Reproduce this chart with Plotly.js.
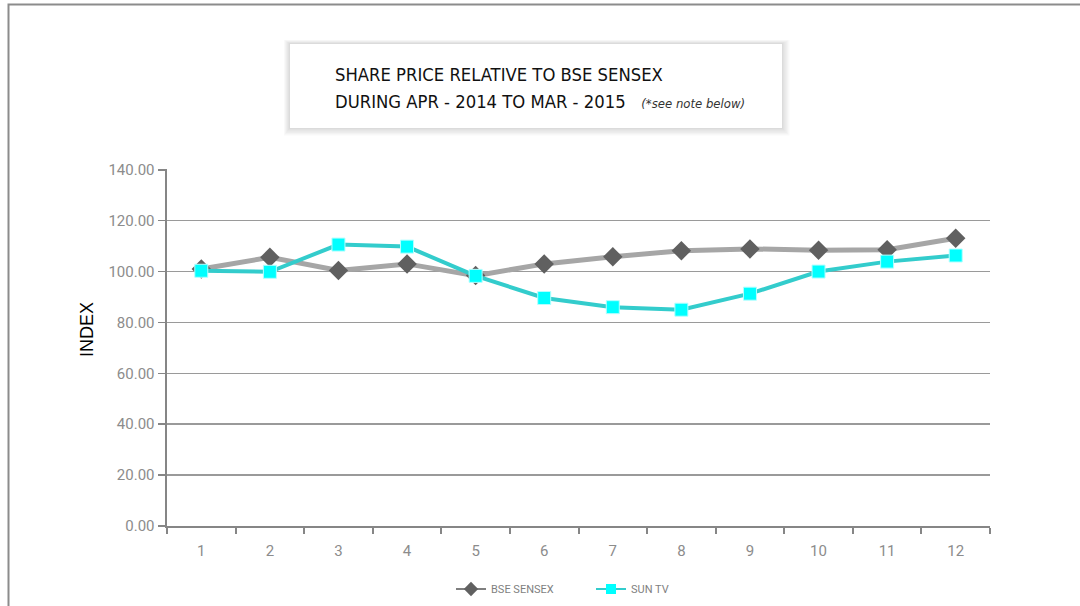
<!DOCTYPE html>
<html>
<head>
<meta charset="utf-8">
<script src="https://cdn.plot.ly/plotly-3.0.1.min.js"></script>
<style>
html,body{margin:0;padding:0;background:#fff;}
#chart{width:1080px;height:606px;}
</style>
</head>
<body>
<div id="chart"></div>
<script>
const months = ["1","2","3","4","5","6","7","8","9","10","11","12"];
const bseSensex = [101.0, 105.6, 100.4, 103.0, 98.4, 103.0, 105.8, 108.2, 108.9, 108.4, 108.6, 113.1];
const sunTv = [100.3, 99.9, 110.6, 109.8, 98.3, 89.6, 86.0, 85.0, 91.3, 100.0, 103.9, 106.3];
const yTicks = [0, 20, 40, 60, 80, 100, 120, 140];
const yTickLabels = ["0.00", "20.00", "40.00", "60.00", "80.00", "100.00", "120.00", "140.00"];

const traces = [
  {
    x: months, y: bseSensex, name: "BSE SENSEX", type: "scatter", mode: "lines+markers",
    showlegend: false,
    line: {color: "#a6a6a6", width: 5},
    marker: {symbol: "diamond", size: 15, color: "#606060", line: {width: 0}}
  },
  {
    x: months, y: sunTv, name: "SUN TV", type: "scatter", mode: "lines+markers",
    showlegend: false,
    line: {color: "#33cccc", width: 4},
    marker: {symbol: "square", size: 13, color: "#00ffff", line: {width: 1, color: "#b3ffff"}}
  },
  {
    x: [null], y: [null], name: "BSE SENSEX", type: "scatter", mode: "lines+markers",
    line: {color: "#7f7f7f", width: 2},
    marker: {symbol: "diamond", size: 11, color: "#606060", line: {width: 0}}
  },
  {
    x: [null], y: [null], name: "SUN TV", type: "scatter", mode: "lines+markers",
    line: {color: "#33cccc", width: 2},
    marker: {symbol: "square", size: 10, color: "#00ffff", line: {width: 0}}
  }
];

const shadow = [];
for (let i = 0; i < 6; i++) {
  shadow.push({
    type: "rect", xref: "paper", yref: "paper", layer: "below",
    x0: (290 - 167 - 1 - i) / 823, x1: (782 - 167 + 1 + i * 1.3) / 823,
    y0: (526 - 128 - 1 - i * 1.3) / 357, y1: (526 - 44 + 1 + i * 0.6) / 357,
    line: {width: 0}, fillcolor: "rgba(0,0,0,0.022)"
  });
}

const titleFont = "DejaVu Sans Condensed, sans-serif";

const layout = {
  width: 1080, height: 606,
  margin: {l: 167, r: 90, t: 169, b: 80, autoexpand: false},
  paper_bgcolor: "#ffffff", plot_bgcolor: "#ffffff",
  showlegend: true,
  legend: {
    orientation: "h", x: (451 - 167) / 823, xanchor: "left", y: (526 - 589) / 357, yanchor: "middle",
    font: {family: "Roboto, sans-serif", size: 11, color: "#7f7f7f"},
    itemwidth: 30, entrywidth: 95, entrywidthmode: "pixels", traceorder: "normal"
  },
  xaxis: {
    type: "category", range: [-0.5, 11.5],
    showgrid: false, zeroline: false,
    showline: true, linecolor: "#868686", linewidth: 2,
    ticks: "outside", ticklen: 6, tickwidth: 2, tickcolor: "#868686",
    tickson: "boundaries", ticklabelstandoff: 10,
    tickfont: {family: "Roboto, sans-serif", size: 15, color: "#8c8c8c"},
    fixedrange: true
  },
  yaxis: {
    range: [0, 140.3], tickvals: yTicks, ticktext: yTickLabels,
    showgrid: true, gridcolor: "#9a9a9a", gridwidth: 1.5,
    zeroline: false,
    showline: true, linecolor: "#868686", linewidth: 2.5,
    ticks: "outside", ticklen: 7, tickwidth: 1.5, tickcolor: "#868686",
    tickfont: {family: "Roboto, sans-serif", size: 15, color: "#8c8c8c"},
    fixedrange: true
  },
  shapes: [
    {type: "rect", xref: "paper", yref: "paper", layer: "below",
     x0: (8.5 - 167) / 823, x1: (1100 - 167) / 823, y0: (526 - 700) / 357, y1: (526 - 4.5) / 357,
     line: {color: "#8c8c8c", width: 2}, fillcolor: "rgba(0,0,0,0)"},
    ...shadow,
    {type: "rect", xref: "paper", yref: "paper", layer: "above",
     x0: (290 - 167) / 823, x1: (782 - 167) / 823, y0: (526 - 128) / 357, y1: (526 - 44) / 357,
     line: {width: 0}, fillcolor: "#ffffff"}
  ],
  annotations: [
    {xref: "paper", yref: "paper", x: (333 - 167) / 823, y: (526 - 74) / 357,
     xanchor: "left", yanchor: "middle", showarrow: false, align: "left",
     text: "SHARE PRICE RELATIVE TO BSE SENSEX",
     font: {family: titleFont, size: 18.3, color: "#111"}},
    {xref: "paper", yref: "paper", x: (333 - 167) / 823, y: (526 - 101) / 357,
     xanchor: "left", yanchor: "middle", showarrow: false, align: "left",
     text: "DURING APR - 2014 TO MAR - 2015   <i><span style=\"font-size:13px;color:#333\">(*see note below)</span></i>",
     font: {family: titleFont, size: 18.3, color: "#111"}},
    {xref: "paper", yref: "paper", x: (87 - 167) / 823, y: (526 - 330) / 357,
     xanchor: "center", yanchor: "middle", showarrow: false, textangle: -90,
     text: "INDEX",
     font: {family: "Liberation Sans, Arial, sans-serif", size: 18, color: "#000"}}
  ]
};

Plotly.newPlot("chart", traces, layout, {displayModeBar: false, staticPlot: true});
</script>
</body>
</html>
